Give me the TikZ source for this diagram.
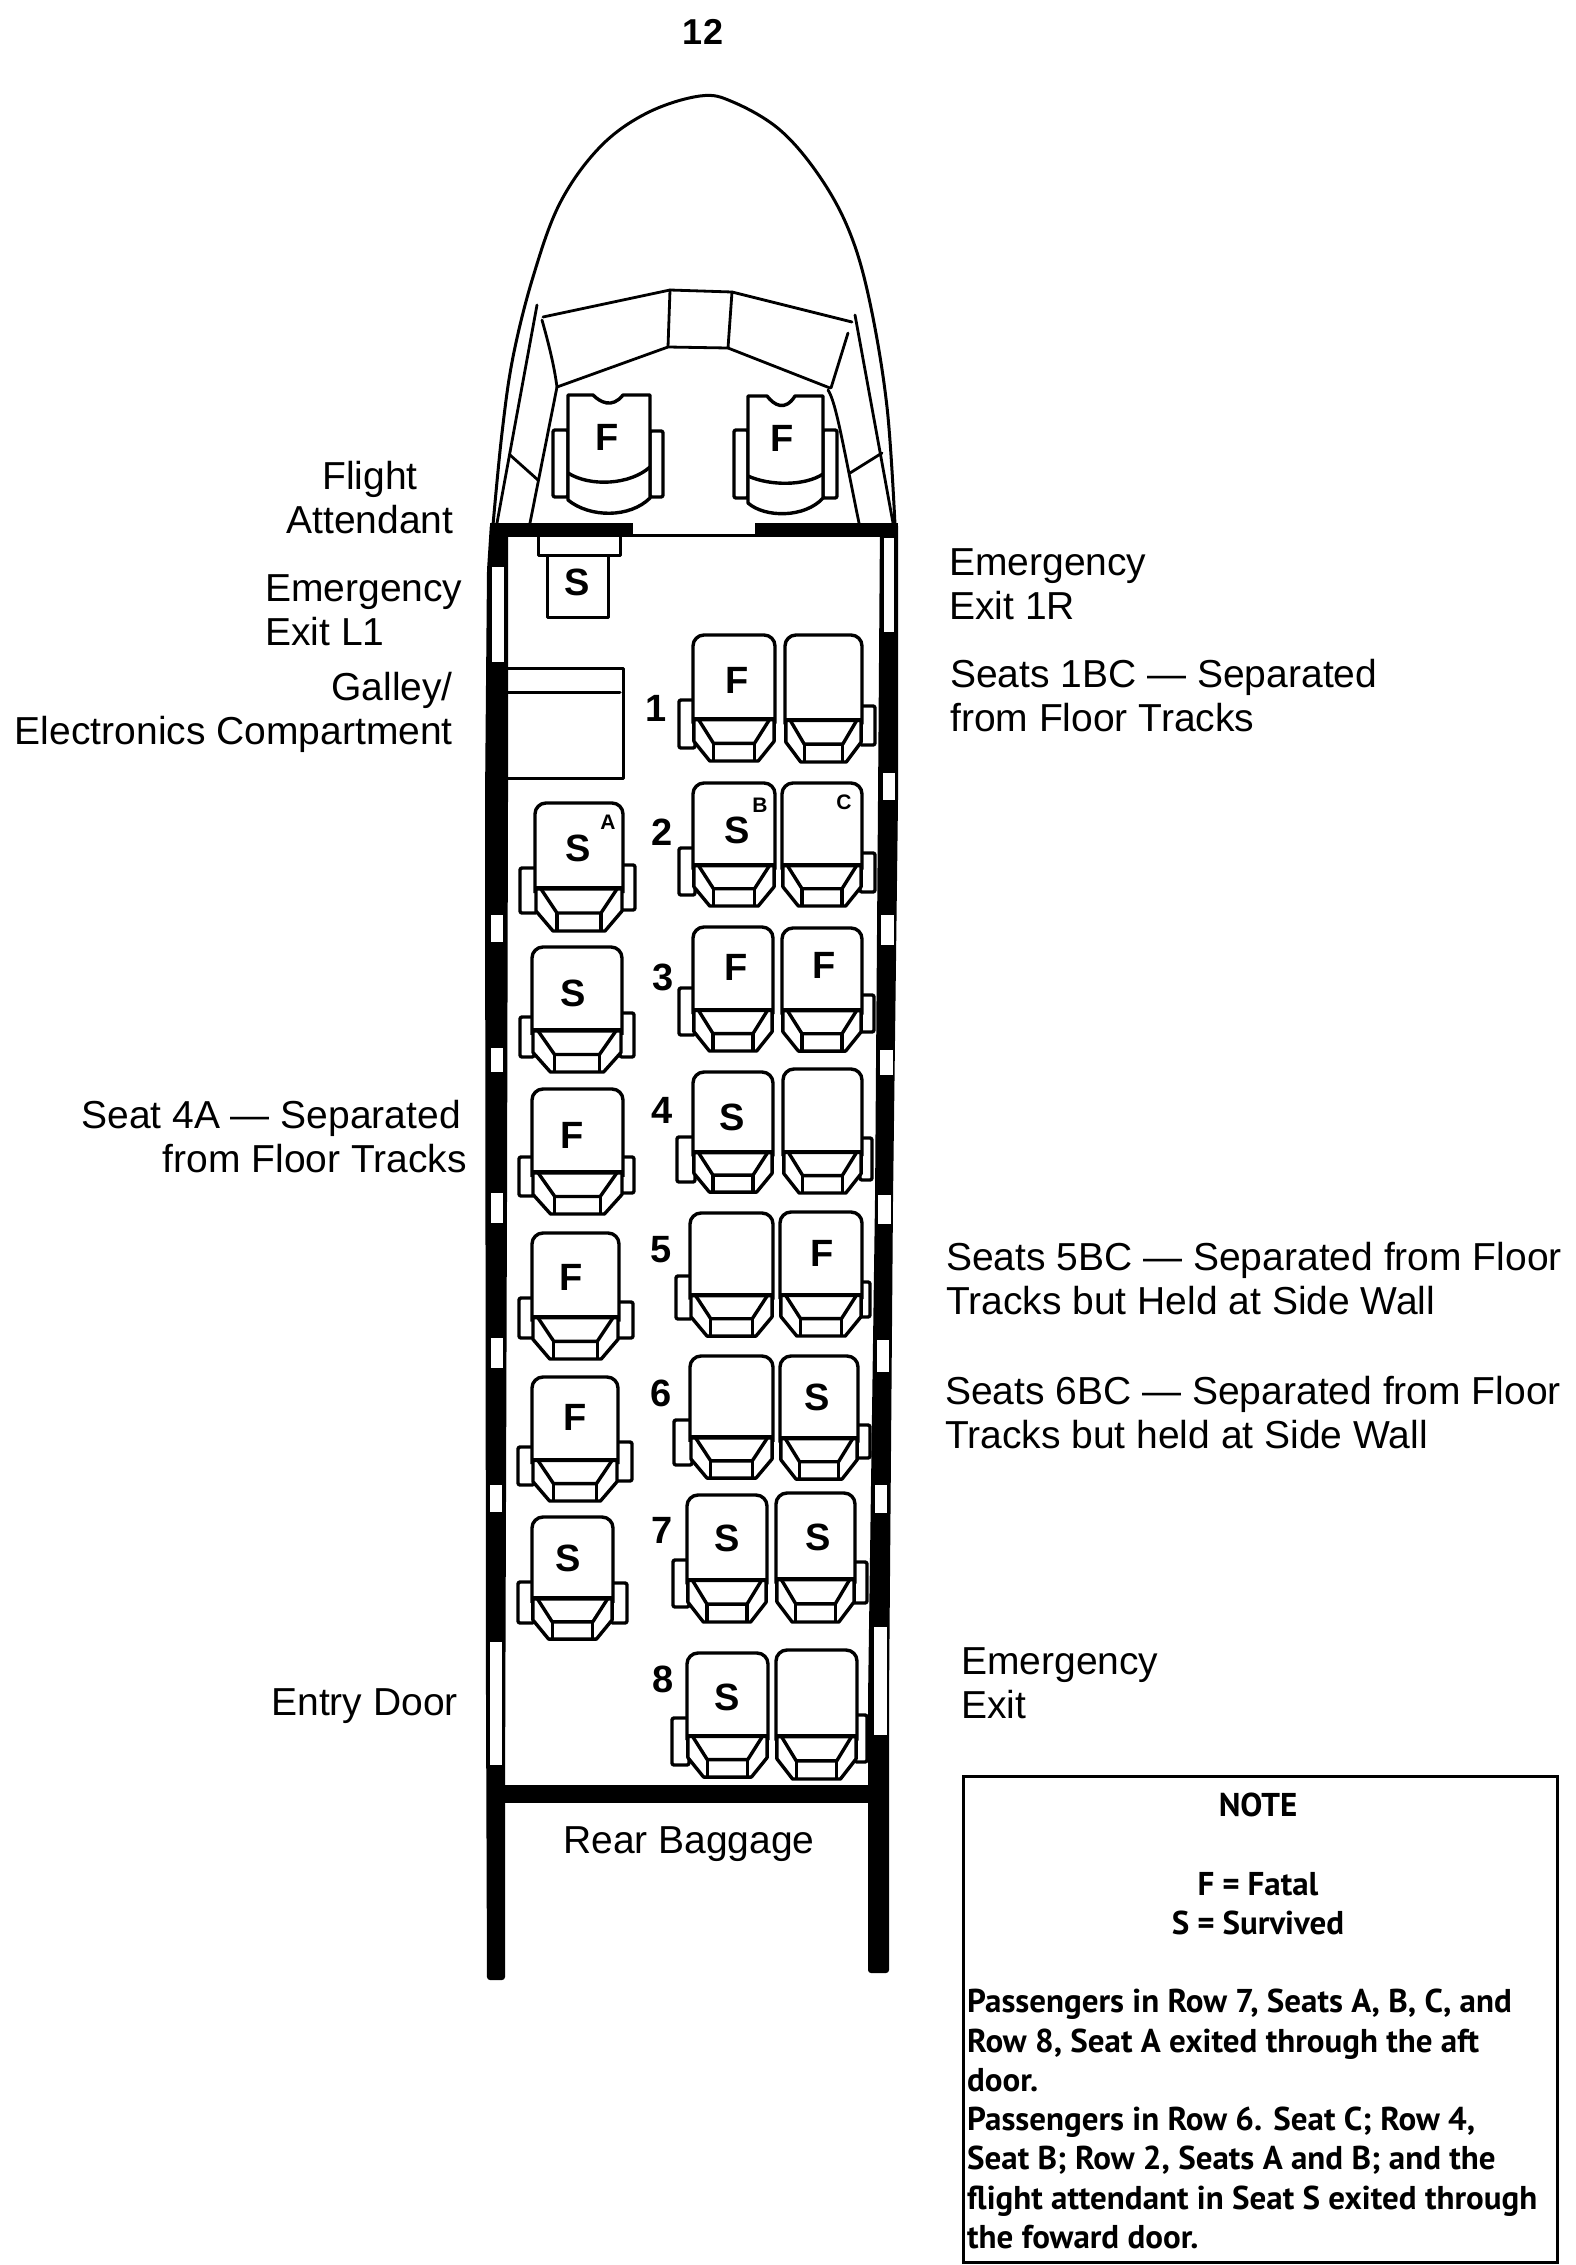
\documentclass[tikz,border=0pt]{standalone}
\usepackage{fontspec}
\setmainfont{Liberation Sans}
\newfontfamily\notefont{PT Sans}
\tikzset{
  x=1pt,y=-1pt,
  ink/.style={draw=black,line width=3pt,line join=round,line cap=round},
  thin ink/.style={draw=black,line width=2.8pt,line join=round,line cap=round},
  seatink/.style={draw=black,line width=3.4pt,line join=round},
  label/.style={font=\fontsize{39}{44}\selectfont,inner sep=0pt,align=left},
  seatletter/.style={font=\fontsize{38}{40}\selectfont\bfseries,inner sep=0pt},
  rownum/.style={font=\fontsize{38}{40}\selectfont\bfseries,inner sep=0pt},
  tiny letter/.style={font=\fontsize{21}{22}\selectfont\bfseries,inner sep=0pt},
  notetext/.style={font=\notefont\fontsize{33}{39.3}\selectfont\bfseries,inner sep=0pt},
}
\newcommand{\seatarm}[4]{\draw[seatink,fill=white,rounded corners=2pt] (#1,#3) rectangle (#2,#4);}
\newcommand{\seatbody}[4]{%
  \begin{scope}[shift={(#1,#3)},xscale={(#2-#1)/88},yscale={(#4-#3)/129}]
    \draw[seatink,fill=white,rounded corners=11pt] (0,90)--(0,0)--(88,0)--(88,90);
    \draw[seatink,fill=white] (1,86)--(1,108)--(18,128)--(70,128)--(87,108)--(87,86)--cycle;
    \draw[seatink] (6,86)--(22,110)--(66,110)--(82,86);
    \draw[seatink] (22,110)--(22,128) (66,110)--(66,128);
    \draw[seatink] (0,85)--(88,85);
  \end{scope}}
\begin{document}
\begin{tikzpicture}
\useasboundingbox (0,0) rectangle (1576,2265);
\fill[white] (0,0) rectangle (1576,2265);
% page number
\node[inner sep=0pt,font=\fontsize{36}{38}\selectfont\bfseries] (pagenum) at (703,32) {12};
% nose
\draw[ink] plot[smooth,tension=0.6] coordinates {(493,525) (502,433) (513,357) (533,277) (560,203) (600,147) (647,113) (700,96) (733,102) (780,130) (820,177) (850,233) (870,303) (887,407) (895,525)};
% windshield
\draw[thin ink] (543,317)--(670,290)--(732,292)--(852,322);
\draw[thin ink] (557,387)--(668,347)--(728,348)--(830,388);
\draw[thin ink] (670,290)--(668,347) (732,292)--(728,348);
\draw[thin ink] (542,320)..controls (549,345) and (554,365)..(557,387);
\draw[thin ink] (848,333)--(831,388);
\draw[thin ink] (537,305)--(497,523);
\draw[thin ink] (557,387)--(530,523);
\draw[thin ink] (510,455)--(538,480);
\draw[thin ink] (855,315)--(893,523);
\draw[thin ink] (828,390)..controls (836,402) and (843,445)..(859,523);
\draw[thin ink] (850,473)--(882,453);
% cockpit seats
\seatarm{553}{568}{430}{497}
\seatarm{650}{663}{431}{497}
\draw[seatink,fill=white] (568,395)--(593,395)..controls (600,402) and (612,409)..(623,395)--(650,395)--(650,498)..controls (630,518) and (590,518)..(568,500)--cycle;
\draw[seatink] (568,473)..controls (590,487) and (630,485)..(650,467);
\seatarm{734}{748}{430}{498}
\seatarm{823}{837}{430}{498}
\draw[seatink,fill=white] (748,396)--(767,396)..controls (774,405) and (785,412)..(795,396)--(823,396)--(823,498)..controls (805,518) and (765,518)..(748,503)--cycle;
\draw[seatink] (748,476)..controls (770,486) and (805,486)..(823,474);
\node[seatletter] (c1) at (607,437) {F};
\node[seatletter] (c2) at (782,438) {F};
% walls
\fill[black,rounded corners=3pt] (490,523)--(508,523)--(508,800)--(507,1200)--(505,1800)--(505,1980)--(487,1980)--(486,1700)--(485,800)--(487,570)--cycle;
\fill[black,rounded corners=3pt] (880,523)--(898,523)--(898,800)--(893,1200)--(889,1700)--(889,1973)--(868,1973)--(868,1700)--(875,1200)--(878,800)--cycle;
% bulkheads
\fill[black] (490,523) rectangle (633,537);
\fill[black] (633,534) rectangle (755,537);
\fill[black] (755,523) rectangle (898,537);
\fill[black] (500,1785) rectangle (875,1803);
% windows left
\foreach \a/\b/\c/\d in {492/504/567/662,491/503/915/942,491/503/1048/1072,491/503/1193/1223,491/503/1338/1368,490/502/1485/1512,490/502/1642/1765}
  \fill[white] (\a,\c) rectangle (\b,\d);
% windows right
\foreach \a/\b/\c/\d in {884/894/538/632,883/895/773/800,881/894/915/945,880/893/1050/1075,878/891/1195/1224,877/889/1340/1372,875/887/1485/1513,874/887/1627/1735}
  \fill[white] (\a,\c) rectangle (\b,\d);
% attendant seat
\draw[ink,fill=white] (538,537)--(538,555)--(620,555)--(620,537);
\draw[ink,fill=white] (547,555) rectangle (608,617);
\node[seatletter] (fa) at (577,582) {S};
% galley
\draw[ink] (507,668)--(623,668)--(623,778)--(507,778);
\draw[ink] (507,692)--(620,692);
% arms
\seatarm{679}{695}{700}{748}
\seatarm{860}{875}{706}{745}
\seatarm{679}{695}{848}{895}
\seatarm{860}{875}{853}{892}
\seatarm{520}{537}{868}{913}
\seatarm{621}{635}{865}{910}
\seatarm{520}{534}{1017}{1057}
\seatarm{620}{634}{1013}{1057}
\seatarm{679}{695}{988}{1035}
\seatarm{860}{874}{995}{1032}
\seatarm{519}{534}{1157}{1196}
\seatarm{621}{634}{1157}{1193}
\seatarm{677}{695}{1137}{1182}
\seatarm{860}{872}{1138}{1180}
\seatarm{519}{534}{1298}{1338}
\seatarm{617}{633}{1302}{1338}
\seatarm{676}{692}{1276}{1319}
\seatarm{860}{870}{1282}{1317}
\seatarm{518}{534}{1447}{1485}
\seatarm{616}{632}{1442}{1481}
\seatarm{674}{692}{1420}{1465}
\seatarm{856}{870}{1425}{1458}
\seatarm{518}{534}{1582}{1623}
\seatarm{611}{627}{1583}{1623}
\seatarm{673}{689}{1560}{1607}
\seatarm{853}{867}{1562}{1603}
\seatarm{672}{689}{1718}{1765}
\seatarm{855}{867}{1715}{1762}
% seats
\seatbody{535}{623}{803}{932}
\seatbody{532}{622}{947}{1073}
\seatbody{532}{623}{1089}{1215}
\seatbody{532}{619}{1233}{1360}
\seatbody{532}{618}{1377}{1502}
\seatbody{532}{613}{1517}{1640}
\seatbody{693}{775}{635}{762}
\seatbody{785}{862}{635}{763}
\seatbody{693}{775}{783}{907}
\seatbody{782}{862}{783}{907}
\seatbody{693}{773}{927}{1052}
\seatbody{782}{862}{928}{1052}
\seatbody{693}{773}{1072}{1193}
\seatbody{783}{862}{1069}{1194}
\seatbody{690}{773}{1213}{1337}
\seatbody{780}{862}{1212}{1337}
\seatbody{690}{773}{1356}{1479}
\seatbody{780}{858}{1356}{1480}
\seatbody{687}{767}{1495}{1623}
\seatbody{776}{855}{1493}{1623}
\seatbody{687}{768}{1653}{1778}
\seatbody{776}{857}{1650}{1780}
% seat letters
\node[seatletter] (a2) at (578,848) {S};
\node[tiny letter] (sa) at (608,822) {A};
\node[tiny letter] (sb) at (760,805) {B};
\node[tiny letter] (sc) at (844,802) {C};
\node[seatletter] (a3) at (573,993) {S};
\node[seatletter] (a4) at (572,1135) {F};
\node[seatletter] (a5) at (571,1277) {F};
\node[seatletter] (a6) at (575,1417) {F};
\node[seatletter] (a7) at (568,1558) {S};
\node[seatletter] (b1) at (737,680) {F};
\node[seatletter] (b2) at (737,830) {S};
\node[seatletter] (b3) at (736,967) {F};
\node[seatletter] (c3) at (824,965) {F};
\node[seatletter] (b4) at (732,1117) {S};
\node[seatletter] (c5) at (822,1253) {F};
\node[seatletter] (c6) at (817,1397) {S};
\node[seatletter] (b7) at (727,1538) {S};
\node[seatletter] (c7) at (818,1537) {S};
\node[seatletter] (b8) at (727,1697) {S};
% row numbers
\node[rownum] (r1) at (656,708) {1};
\node[rownum] (r2) at (662,832) {2};
\node[rownum] (r3) at (663,977) {3};
\node[rownum] (r4) at (662,1110) {4};
\node[rownum] (r5) at (661,1250) {5};
\node[rownum] (r6) at (661,1393) {6};
\node[rownum] (r7) at (662,1530) {7};
\node[rownum] (r8) at (663,1679) {8};
% labels
\node[label,align=center,anchor=center] (fa1) at (370,498) {Flight\\Attendant};
\node[label,anchor=west] (el1) at (265,610) {Emergency\\Exit L1};
\node[label,align=right,anchor=east] (gal) at (453,712) {Galley/\\Electronics Compartment};
\node[label,align=right,anchor=east] (s4a) at (467,1137) {Seat 4A — Separated\hspace*{6pt}\\from Floor Tracks};
\node[label,align=right,anchor=east] (ent) at (458,1706) {Entry Door};
\node[label,anchor=west] (e1r) at (949,584) {Emergency\\Exit 1R};
\node[label,anchor=west] (s1bc) at (950,696) {Seats 1BC — Separated\\from Floor Tracks};
\node[label,anchor=west] (s5bc) at (946,1279) {Seats 5BC — Separated from Floor\\Tracks but Held at Side Wall};
\node[label,anchor=west] (s6bc) at (945,1413) {Seats 6BC — Separated from Floor\\Tracks but held at Side Wall};
\node[label,anchor=west] (eex) at (961,1683) {Emergency\\Exit};
\node[label,anchor=center] (rb) at (689,1844) {Rear Baggage};
% note
\draw[line width=3pt] (963,1776) rectangle (1557,2262);
\node[notetext] (nt) at (1258,1805) {NOTE};
\node[notetext,align=center] (nf) at (1258,1904) {F\hspace{8pt}=\hspace{8pt}Fatal\\S\hspace{8pt}=\hspace{8pt}Survived};
\node[notetext,align=left,anchor=north west] (np) at (967,1989) {Passengers in Row 7, Seats A, B, C, and\\Row 8, Seat A exited through the aft\\door.\\Passengers in Row 6. Seat C; Row 4,\\Seat B; Row 2, Seats A and B; and the\\flight attendant in Seat S exited through\\the foward door.};
\end{tikzpicture}
\end{document}
